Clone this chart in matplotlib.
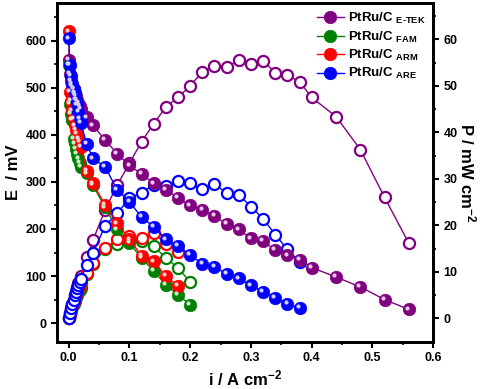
import numpy as np
import matplotlib
matplotlib.use("Agg")
import matplotlib.pyplot as plt
from matplotlib.transforms import offset_copy

plt.rcParams['font.family'] = ['Liberation Sans', 'DejaVu Sans']
plt.rcParams['font.weight'] = 'bold'
plt.rcParams['axes.labelweight'] = 'bold'
plt.rcParams['mathtext.fontset'] = 'custom'
plt.rcParams['mathtext.rm'] = 'Liberation Sans:bold'
plt.rcParams['mathtext.bf'] = 'Liberation Sans:bold'
plt.rcParams['mathtext.default'] = 'bf'

early = [0, 0.002, 0.004, 0.006, 0.008, 0.010, 0.012, 0.014, 0.016, 0.018, 0.020]

# PtRu/C E-TEK
i_etek = early + [0.03, 0.04, 0.06, 0.08, 0.10, 0.12, 0.14, 0.16, 0.18, 0.20, 0.22, 0.24,
                  0.26, 0.28, 0.30, 0.32, 0.34, 0.36, 0.38, 0.40, 0.44, 0.48, 0.52, 0.56]
E_etek = [560, 530, 515, 505, 497, 489, 482, 475, 468, 461, 455, 437, 420, 389, 360, 335, 317,
          297, 283, 266, 250, 241, 227, 211, 199, 180, 174, 155, 144, 134, 118, 98, 77, 50, 29]
P_etek = [0, 1.1, 2.1, 3.0, 4.0, 4.9, 5.8, 6.7, 7.5, 8.3, 9.1, 13.1, 16.8, 23.3, 28.7, 33.3,
          38.0, 41.8, 45.5, 47.5, 50.0, 53.0, 54.3, 54.1, 55.5, 54.8, 55.4, 52.8, 52.3, 50.9,
          47.5, 43.4, 36.3, 26.0, 16.1]

# PtRu/C FAM
i_fam = early + [0.03, 0.04, 0.06, 0.08, 0.10, 0.12, 0.14, 0.16, 0.18, 0.20]
E_fam = [548, 466, 445, 431, 392, 382, 371, 360, 350, 340, 332, 318, 293, 246, 199, 170, 138,
         111, 81, 60, 39]
P_fam = [0, 0.9, 1.8, 2.6, 3.1, 3.8, 4.5, 5.0, 5.6, 6.1, 6.6, 9.5, 11.7, 14.8, 15.9, 17.0,
         16.6, 15.5, 13.0, 10.8, 7.8]

# PtRu/C ARM
i_arm = early + [0.03, 0.04, 0.06, 0.08, 0.10, 0.12, 0.14, 0.16, 0.18]
E_arm = [620, 491, 473, 452, 435, 420, 410, 403, 392, 385, 374, 323, 297, 251, 212, 178, 143,
         131, 100, 79]
P_arm = [0, 1.0, 1.9, 2.7, 3.5, 4.2, 4.9, 5.6, 6.3, 6.9, 7.5, 9.7, 11.9, 15.1, 17.0, 17.6,
         17.2, 18.3, 16.0, 14.2]

# PtRu/C ARE
i_are = early + [0.03, 0.04, 0.06, 0.08, 0.10, 0.12, 0.14, 0.16, 0.18, 0.20, 0.22, 0.24,
                 0.26, 0.28, 0.30, 0.32, 0.34, 0.36, 0.38]
E_are = [605, 548, 526, 509, 498, 488, 475, 463, 449, 435, 425, 380, 350, 332, 283, 258, 225,
         205, 178, 164, 145, 126, 120, 104, 95, 80, 67, 53, 41, 32]
P_are = [0, 1.1, 2.1, 3.1, 4.0, 4.9, 5.7, 6.5, 7.2, 7.8, 8.5, 11.4, 14.0, 19.9, 22.6, 25.8,
         27.0, 28.7, 28.5, 29.5, 29.0, 27.7, 28.8, 27.0, 26.6, 24.0, 21.4, 18.0, 14.8, 12.2]

series = [
    ("PtRu/C $_{E\\text{-}TEK}$", "#800080", "#e8c8e8", i_etek, E_etek, P_etek),
    ("PtRu/C $_{FAM}$", "#008000", "#c8f0c8", i_fam, E_fam, P_fam),
    ("PtRu/C $_{ARM}$", "#ff0000", "#ffd0d0", i_arm, E_arm, P_arm),
    ("PtRu/C $_{ARE}$", "#0000ff", "#d0d0ff", i_are, E_are, P_are),
]

fig = plt.figure(figsize=(4.84, 3.89), dpi=100)
ax = fig.add_axes([0.118, 0.121, 0.777, 0.871])
ax2 = ax.twinx()

hl = offset_copy(ax.transData, fig=fig, x=-1.3, y=1.3, units='points')
handles = []
for label, col, light, i, E, P in series:
    ax2.plot(i, P, '-o', color=col, lw=1.0, ms=8, mfc='white', mec=col, mew=1.6, zorder=2)
    h, = ax.plot(i, E, '-o', color=col, lw=1.0, ms=9, mfc=col, mec=col, mew=0.5, label=label,
                 zorder=3)
    ax.plot(i, E, 'o', ms=3, mfc=light, mec='none', transform=hl, zorder=4)
    handles.append(h)

ax.set_zorder(ax2.get_zorder() + 1)
ax.patch.set_visible(False)

ax.set_xlim(-0.019, 0.6)
ax.set_ylim(-40, 680)
ax2.set_ylim(-5.1, 67.8)
ax.set_xticks(np.arange(0, 0.61, 0.1))
ax.set_xticks(np.arange(0, 0.61, 0.05), minor=True)
ax.set_yticks(np.arange(0, 601, 100))
ax.set_yticks(np.arange(0, 651, 50), minor=True)
ax2.set_yticks(np.arange(0, 61, 10))
ax2.set_yticks(np.arange(0, 66, 5), minor=True)
ax.set_xticklabels(["0.0", "0.1", "0.2", "0.3", "0.4", "0.5", "0.6"])

for a in (ax, ax2):
    a.tick_params(which='major', direction='out', length=4, width=1.5, labelsize=9)
    a.tick_params(which='minor', direction='out', length=2.5, width=1.2)
    for s in a.spines.values():
        s.set_linewidth(2.0)

ax.set_xlabel("i / A cm$^{-2}$", fontsize=12, labelpad=3)
ax.set_ylabel("E  / mV", fontsize=12, labelpad=3)
ax2.set_ylabel("P / mW cm$^{-2}$", fontsize=12, rotation=270, labelpad=14)

leg = ax.legend(handles=handles, loc='upper right', frameon=False, fontsize=9.5,
                handlelength=2.0, handletextpad=0.3, labelspacing=0.25,
                borderaxespad=0.2, bbox_to_anchor=(1.0, 1.0))

fig.savefig("out.png", dpi=100)
